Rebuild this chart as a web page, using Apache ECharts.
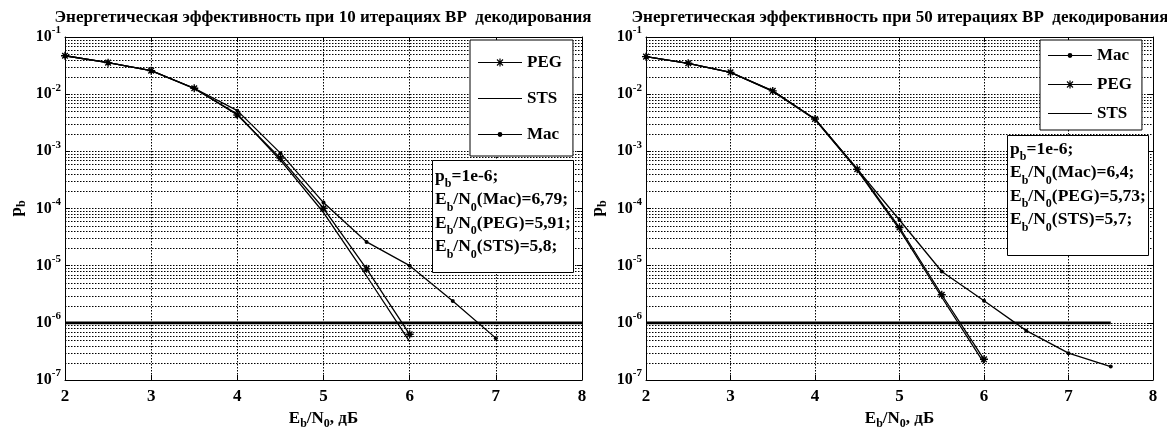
<!DOCTYPE html>
<html><head><meta charset="utf-8">
<script src="https://cdn.jsdelivr.net/npm/echarts@6/dist/echarts.min.js"></script>
<style>html,body{margin:0;padding:0;background:#fff}#c{width:1167px;height:428px}</style>
</head><body><div id="c"></div>
<script>
// ---- data: 10 iterations ----
const ebn0_10 = [2, 2.5, 3, 3.5, 4, 4.5, 5, 5.5, 6, 6.5, 7];
const mac10 = [0.047, 0.0356, 0.0258, 0.0127, 0.00515, 9.3e-4, 1.27e-4, 2.6e-5, 1.0e-5, 2.4e-6, 5.4e-7];
const peg10 = [0.047, 0.0356, 0.0258, 0.0127, 0.00433, 7.6e-4, 1.01e-4, 8.8e-6, 6.3e-7];
const sts10 = [0.047, 0.0356, 0.0258, 0.0125, 0.0045, 7.0e-4, 8.5e-5, 6.6e-6, 4.7e-7];
// ---- data: 50 iterations ----
const ebn0_50 = [2, 2.5, 3, 3.5, 4, 4.5, 5, 5.5, 6, 6.5, 7, 7.5];
const mac50 = [0.0453, 0.0347, 0.0241, 0.0114, 0.00368, 4.9e-4, 6.3e-5, 7.9e-6, 2.43e-6, 7.3e-7, 2.95e-7, 1.72e-7];
const peg50 = [0.0453, 0.0347, 0.0241, 0.0114, 0.00368, 4.86e-4, 4.65e-5, 3.1e-6, 2.3e-7];
const sts50 = [0.0453, 0.0347, 0.0241, 0.0112, 0.0036, 4.7e-4, 4.3e-5, 2.8e-6, 1.97e-7];
// ---- reference level ----
const targetPb = 1e-6;
const limitX10 = [2, 8];
const limitX50 = [2, 7.5];
// ---- texts ----
const titles = ['Энергетическая эффективность при 10 итерациях ВР  декодирования',
                'Энергетическая эффективность при 50 итерациях ВР  декодирования'];
const legendOrder10 = ['PEG', 'STS', 'Mac'];
const legendOrder50 = ['Mac', 'PEG', 'STS'];
const noteNames = ['Mac', 'PEG', 'STS'];
const noteVals10 = ['6,79', '5,91', '5,8'];
const noteVals50 = ['6,4', '5,73', '5,7'];
const xMin = 2, xMax = 8, yMin = 1e-7, yMax = 1e-1;

const FONT = 'Liberation Serif';
const starPath = 'path://M5,0L5,10M0,5L10,5M1.5,1.5L8.5,8.5M1.5,8.5L8.5,1.5';
const pair = (xs, ys) => ys.map((v, i) => [xs[i], v]);

// legend icons (line sample + marker)
const icLine = 'M0,4.4H44V5.6H0Z';
const icons = {
  STS: 'path://' + icLine,
  Mac: 'path://' + icLine + 'M19.6,5A2.4,2.4 0 1 1 24.4,5A2.4,2.4 0 1 1 19.6,5Z',
  PEG: 'path://' + icLine + 'M21.4,1H22.6V9H21.4Z' +
       'M18.6,2.4L19.4,1.6L25.4,7.6L24.6,8.4Z' +
       'M24.6,1.6L25.4,2.4L19.4,8.4L18.6,7.6Z'
};

const richBase = {
  n: {fontFamily: FONT, fontWeight: 'bold', fontSize: 17, lineHeight: 17, verticalAlign: 'top', color: '#000'},
  s: {fontFamily: FONT, fontWeight: 'bold', fontSize: 12, lineHeight: 12, verticalAlign: 'top', padding: [8, 0, 0, 0], color: '#000'},
  b: {fontFamily: FONT, fontWeight: 'bold', fontSize: 16, lineHeight: 16, verticalAlign: 'bottom', color: '#000'},
  e: {fontFamily: FONT, fontWeight: 'bold', fontSize: 11, lineHeight: 11, verticalAlign: 'bottom', padding: [0, 0, 9, 0], color: '#000'}
};
const noteRich = {
  n: {fontFamily: FONT, fontWeight: 'bold', fontSize: 17.5, lineHeight: 23.5, verticalAlign: 'top', color: '#000'},
  s: {fontFamily: FONT, fontWeight: 'bold', fontSize: 12, lineHeight: 12, verticalAlign: 'top', padding: [11, 0, 0, 0], color: '#000'}
};
function noteText(vals) {
  const lines = ['{n|p}{s|b}{n|=1e-6;}'];
  noteNames.forEach((nm, i) => lines.push('{n|E}{s|b}{n|/N}{s|0}{n|(' + nm + ')=' + vals[i] + ';}'));
  return lines.join('\n');
}

// minor log grid levels (2..9 x 10^k)
const minorLevels = [];
for (let k = -7; k <= -2; k++) for (let m = 2; m <= 9; m++) minorLevels.push(m * Math.pow(10, k));

const grids = [
  {left: 65, right: 585, top: 37, bottom: 48, outerBoundsMode: 'none', containLabel: false},
  {left: 646, right: 14, top: 37, bottom: 48, outerBoundsMode: 'none', containLabel: false}
];
const DASH = [1.5, 1.5];
const dotted = {color: '#000', width: 1, type: DASH};

function xAxes(gi) {
  return [{
    gridIndex: gi, type: 'value', min: xMin, max: xMax, interval: 1,
    axisLine: {lineStyle: {color: '#000', width: 1}},
    axisTick: {inside: true, length: 5, lineStyle: {color: '#000'}},
    axisLabel: {fontFamily: FONT, fontWeight: 'bold', fontSize: 17, color: '#000', margin: 8},
    splitLine: {show: true, lineStyle: dotted},
    name: '{n|E}{s|b}{n|/N}{s|0}{n|, дБ}', nameLocation: 'middle', nameGap: 27,
    nameTextStyle: {rich: richBase}
  }, {
    gridIndex: gi, type: 'value', position: 'top', min: xMin, max: xMax, interval: 1,
    axisLine: {lineStyle: {color: '#000', width: 1}},
    axisTick: {inside: true, length: 5, lineStyle: {color: '#000'}},
    axisLabel: {show: false}, splitLine: {show: false}
  }];
}
function yAxes(gi) {
  return [{
    gridIndex: gi, type: 'log', logBase: 10, min: yMin, max: yMax,
    axisLine: {show: true, lineStyle: {color: '#000', width: 1}},
    axisTick: {show: true, inside: true, length: 5, lineStyle: {color: '#000'}},
    axisLabel: {
      margin: 4,
      formatter: v => '{b|10}{e|' + Math.round(Math.log10(v)) + '}',
      rich: richBase
    },
    splitLine: {show: true, lineStyle: dotted},
    name: '{n|p}{s|b}', nameLocation: 'middle', nameGap: 40, nameRotate: 90,
    nameTextStyle: {rich: richBase}
  }, {
    gridIndex: gi, type: 'log', logBase: 10, min: yMin, max: yMax, position: 'right',
    axisLine: {show: true, lineStyle: {color: '#000', width: 1}},
    axisTick: {show: true, inside: true, length: 5, lineStyle: {color: '#000'}},
    axisLabel: {show: false}, splitLine: {show: false}
  }];
}

function curve(name, xs, ys, ax, kind) {
  const s = {
    name: name, type: 'line', xAxisIndex: ax, yAxisIndex: ax, data: pair(xs, ys),
    lineStyle: {color: '#000', width: 1.3}, animation: false, z: 5,
    itemStyle: {color: '#000', borderColor: '#000', borderWidth: 1.4}
  };
  if (kind === 'star') { s.symbol = starPath; s.symbolSize = 8; }
  else if (kind === 'dot') { s.symbol = 'circle'; s.symbolSize = 4; s.itemStyle.borderWidth = 0; }
  else { s.symbol = 'none'; }
  return s;
}
function limitSeries(xs, ax) {
  return {
    name: 'lim' + ax, type: 'line', xAxisIndex: ax, yAxisIndex: ax,
    data: xs.map(x => [x, targetPb]), symbol: 'none',
    lineStyle: {color: '#000', width: 2.6}, animation: false, z: 4
  };
}
// minor log grid lines, placed through the axis scale, snapped to crisp pixels
function minorGrid(ax) {
  return {
    name: 'minor' + ax, type: 'custom', coordinateSystem: 'cartesian2d',
    xAxisIndex: ax, yAxisIndex: ax, silent: true, animation: false, z: 1, clip: true,
    encode: {x: 0, y: 1},
    data: minorLevels.map(v => [xMin, v]),
    renderItem: (params, api) => {
      const p1 = api.coord([xMin, api.value(1)]);
      const p2 = api.coord([xMax, api.value(1)]);
      const y = Math.round(p1[1]) + 0.5;
      return {type: 'line', shape: {x1: p1[0], y1: y, x2: p2[0], y2: y},
              style: {stroke: '#000', lineWidth: 1, lineDash: DASH, fill: null}};
    }
  };
}

const legendCommon = {
  orient: 'vertical', itemWidth: 44, itemHeight: 10,
  backgroundColor: '#fff', borderColor: '#000', borderWidth: 1,
  selectedMode: false, itemStyle: {borderWidth: 0},
  textStyle: {fontFamily: FONT, fontWeight: 'bold', fontSize: 17, color: '#000'}
};
const noteCommon = {
  backgroundColor: '#fff', borderColor: '#000', borderWidth: 1,
  textStyle: {rich: noteRich}
};
const legendItems = names => names.map(n => ({name: n, icon: icons[n]}));

const option = {
  backgroundColor: '#fff',
  animation: false,
  title: [
    {text: titles[0], left: 323, top: 9, textAlign: 'center', padding: 0,
     textStyle: {fontFamily: FONT, fontWeight: 'bold', fontSize: 17, color: '#000'}},
    {text: titles[1], left: 900, top: 9, textAlign: 'center', padding: 0,
     textStyle: {fontFamily: FONT, fontWeight: 'bold', fontSize: 17, color: '#000'}},
    Object.assign({text: noteText(noteVals10), left: 432, top: 160, padding: [7, 3, 12, 3]}, noteCommon),
    Object.assign({text: noteText(noteVals50), left: 1007, top: 135, padding: [5, 3, 22, 3]}, noteCommon)
  ],
  legend: [
    Object.assign({data: legendItems(legendOrder10), left: 470, top: 40, itemGap: 19,
                   padding: [14, 11, 13, 8]}, legendCommon),
    Object.assign({data: legendItems(legendOrder50), left: 1040, top: 40, itemGap: 12,
                   padding: [7, 10, 8, 8]}, legendCommon)
  ],
  grid: grids,
  xAxis: xAxes(0).concat(xAxes(1)),
  yAxis: yAxes(0).concat(yAxes(1)),
  series: [
    minorGrid(0),
    limitSeries(limitX10, 0),
    curve('Mac', ebn0_10, mac10, 0, 'dot'),
    curve('PEG', ebn0_10, peg10, 0, 'star'),
    curve('STS', ebn0_10, sts10, 0, 'none'),
    minorGrid(2),
    limitSeries(limitX50, 2),
    curve('Mac', ebn0_50, mac50, 2, 'dot'),
    curve('PEG', ebn0_50, peg50, 2, 'star'),
    curve('STS', ebn0_50, sts50, 2, 'none')
  ]
};
// axes indices: grid0 -> xAxis 0 (bottom), 1 (top); grid1 -> 2, 3. Same for yAxis.
const chart = echarts.init(document.getElementById('c'), null, {renderer: 'canvas'});
chart.setOption(option);
</script>
</body></html>
